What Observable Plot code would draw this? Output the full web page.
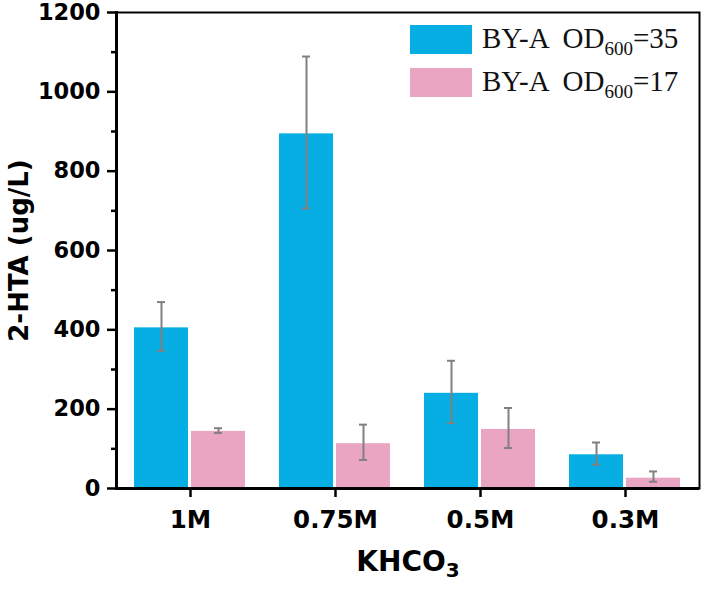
<!DOCTYPE html>
<html>
<head>
<meta charset="utf-8">
<script src="https://cdn.jsdelivr.net/npm/d3@7"></script>
<script src="https://cdn.jsdelivr.net/npm/@observablehq/plot@0.6"></script>
<style>
  html, body { margin: 0; padding: 0; background: white; }
  #wrap { position: relative; width: 707px; height: 591px; }
  #wrap > svg, #wrap > figure { position: absolute; left: 0; top: 0; margin: 0; }
  .legend { position: absolute; left: 410px; font-family: "Liberation Serif", "Times New Roman", serif; font-size: 29px; color: #111; }
  .legend .row { position: absolute; left: 0; display: flex; align-items: center; height: 29px; white-space: pre; }
  .legend .sw { width: 62px; height: 29px; margin-right: 10px; flex: none; }
  .legend .txt { line-height: 29px; white-space: pre; }
  .legend .sub { font-size: 19px; position: relative; top: 7px; }
</style>
</head>
<body>
<div id="wrap"></div>
<script>
// ---- data ----
const categories = ["1M", "0.75M", "0.5M", "0.3M"];
const seriesKeys = ["OD35", "OD17"];
const seriesLabels = ["BY-A  OD", "BY-A  OD"];
const seriesSub = ["600", "600"];
const seriesTail = ["=35", "=17"];
const seriesColors = ["#06AEE3", "#EAA5C2"];
const od35Values = [405, 894, 240, 85];
const od35Low = [347, 706, 165, 60];
const od35High = [470, 1089, 322, 116];
const od17Values = [144, 113, 149, 26];
const od17Low = [140, 72, 102, 17];
const od17High = [152, 161, 203, 43];
const yTicks = [0, 200, 400, 600, 800, 1000, 1200];
const yMinorTicks = [100, 300, 500, 700, 900, 1100];
const yTitle = "2-HTA (ug/L)";
const xTitleMain = "KHCO";
const xTitleSub = "3";

const rows = [];
categories.forEach((c, i) => {
  rows.push({cat: c, s: "OD35", v: od35Values[i], lo: od35Low[i], hi: od35High[i]});
  rows.push({cat: c, s: "OD17", v: od17Values[i], lo: od17Low[i], hi: od17High[i]});
});

const W = 707, H = 591;
const margins = {marginLeft: 116, marginRight: 8, marginTop: 12, marginBottom: 103};
const font = "'DejaVu Sans', sans-serif";

// bars layer (faceted)
const bars = Plot.plot({
  width: W, height: H, ...margins,
  style: {background: "white"},
  fx: {domain: categories, paddingInner: 0.22, paddingOuter: 0.11, axis: null, label: null},
  x: {domain: seriesKeys, paddingInner: 0.05, paddingOuter: 0, axis: null},
  y: {domain: [0, 1200], axis: null},
  color: {domain: seriesKeys, range: seriesColors},
  marks: [
    Plot.barY(rows, {fx: "cat", x: "s", y: "v", fill: "s"}),
    Plot.ruleX(rows, {fx: "cat", x: "s", y1: "lo", y2: "hi", stroke: "#808080", strokeWidth: 2}),
    Plot.tickY(rows, {fx: "cat", x: "s", y: "lo", stroke: "#808080", strokeWidth: 2, insetLeft: 23, insetRight: 23}),
    Plot.tickY(rows, {fx: "cat", x: "s", y: "hi", stroke: "#808080", strokeWidth: 2, insetLeft: 23, insetRight: 23})
  ]
});

// axes layer (transparent overlay)
const axes = Plot.plot({
  width: W, height: H, ...margins,
  style: {background: "transparent", fontFamily: font, color: "black"},
  x: {domain: categories, paddingInner: 0.22, paddingOuter: 0.11, axis: null},
  y: {domain: [0, 1200], axis: null},
  marks: [
    Plot.frame({stroke: "black", strokeWidth: 2}),
    Plot.frame({anchor: "left", stroke: "black", strokeWidth: 3}),
    Plot.ruleY([0], {stroke: "black", strokeWidth: 3}),
    Plot.axisY(yMinorTicks, {tickSize: 5, strokeWidth: 2.5, text: null, label: null}),
    Plot.axisY(yTicks, {tickSize: 9, tickPadding: 7, strokeWidth: 2.5, fontSize: 22.5, fontWeight: "bold", tickFormat: d3.format("d"), label: null}),
    Plot.axisX({tickSize: 9, tickPadding: 13, strokeWidth: 2.5, fontSize: 24.5, fontWeight: "bold", label: null}),
    Plot.text([yTitle], {frameAnchor: "left", textAnchor: "middle", rotate: -90, dx: -97, fontSize: 26, fontWeight: "bold", fill: "black"}),
    Plot.text([xTitleMain + xTitleSub], {frameAnchor: "bottom", textAnchor: "middle", dy: 82, fontSize: 28, fontWeight: "bold", fill: "black", className: "xtitle"})
  ]
});

const wrap = document.getElementById("wrap");
wrap.appendChild(bars);
wrap.appendChild(axes);

// subscript for the x title
d3.select(axes).selectAll("text").filter(function() { return this.textContent === xTitleMain + xTitleSub; })
  .each(function() {
    const t = d3.select(this);
    t.text(xTitleMain);
    t.append("tspan").attr("dy", "0.3em").attr("font-size", "20px").text(xTitleSub);
  });

// legend
const leg = document.createElement("div");
leg.className = "legend";
leg.style.top = "0px";
const tops = [25, 68];
seriesKeys.forEach((k, i) => {
  const r = document.createElement("div");
  r.className = "row";
  r.style.top = tops[i] + "px";
  r.innerHTML = `<div class="sw" style="background:${seriesColors[i]}"></div><span class="txt">${seriesLabels[i]}<span class="sub">${seriesSub[i]}</span>${seriesTail[i]}</span>`;
  leg.appendChild(r);
});
wrap.appendChild(leg);
</script>
</body>
</html>
